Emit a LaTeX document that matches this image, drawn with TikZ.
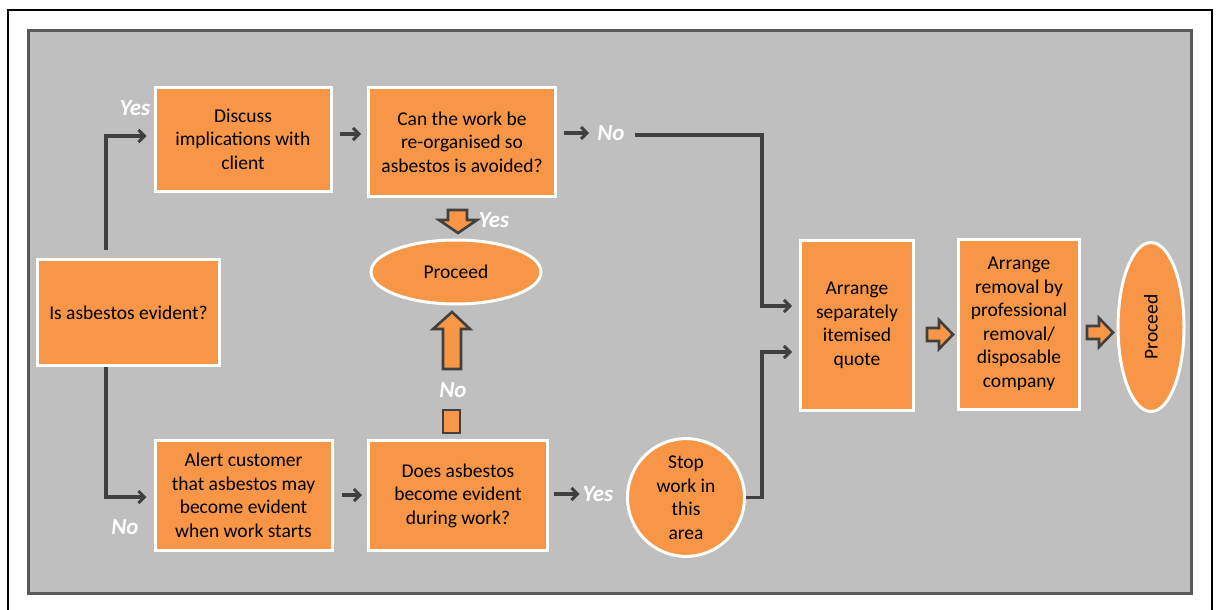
\documentclass[tikz,border=0pt]{standalone}
\usepackage{fontspec}
\setmainfont{Carlito}
\usetikzlibrary{arrows.meta,calc,shapes.geometric}
\definecolor{orng}{HTML}{F79646}
\definecolor{panel}{HTML}{BFBFBF}
\definecolor{pborder}{HTML}{595959}
\definecolor{conn}{HTML}{404040}
\begin{document}
\begin{tikzpicture}[x=1pt,y=-1pt,
  box/.style={draw=white, line width=3pt, fill=orng, align=center, inner sep=0pt,
    font=\fontsize{19.5}{23.5}\selectfont},
  oval/.style={box, ellipse},
  lbl/.style={text=white, font=\fontsize{23}{26}\selectfont\bfseries\itshape, inner sep=0pt},
  link/.style={draw=conn, line width=3.2pt, -{Straight Barb[length=6pt,width=12pt,line width=3pt]}},
  plain/.style={draw=conn, line width=3.2pt},
  blk/.style={draw=conn, fill=orng, line width=2.6pt, line join=miter}]
\useasboundingbox (0,0) rectangle (1218,610);
% frames
\draw[black, line width=2pt] (7,10.5) -- (1212,10.5) -- (1212,620);
\draw[black, line width=2pt] (7.5,10) -- (7.5,620);
\draw[fill=panel, draw=pborder, line width=3pt] (28,31) rectangle (1191,593);
% nodes
\node[box, minimum width=182, minimum height=106] (isq) at (128.5,312.5) {Is asbestos evident?};
\node[box, minimum width=176, minimum height=104] (disc) at (243,139) {Discuss\\implications with\\client};
\node[box, minimum width=187, minimum height=109] (can) at (462,142) {Can the work be\\re-organised so\\asbestos is avoided?};
\node[oval, minimum width=170, minimum height=64] (pro1) at (456,272) {Proceed};
\node[box, minimum width=177, minimum height=110] (alert) at (243.5,495.5) {Alert customer\\that asbestos may\\become evident\\when work starts};
\node[box, minimum width=179, minimum height=110] (does) at (458,495.5) {Does asbestos\\become evident\\during work?};
\node[oval, minimum width=117, minimum height=115] (stop) at (686,497.5) {Stop\\work in\\this\\area};
\node[box, minimum width=113, minimum height=170] (quote) at (857,325.5) {Arrange\\separately\\itemised\\quote};
\node[box, minimum width=121, minimum height=170] (remv) at (1019,324) {Arrange\\removal by\\professional\\removal/\\disposable\\company};
\node[oval, minimum width=66, minimum height=169] (pro2) at (1151,327) {};
\node[rotate=90, font=\fontsize{19.5}{23}\selectfont] (pro2t) at (pro2.center) {Proceed};
% labels
\node[lbl] (yes1) at (135,108) {Yes};
\node[lbl] (no1) at (125,527) {No};
\node[lbl] (no2) at (611,133) {No};
\node[lbl] (yes2) at (494,220) {Yes};
\node[lbl] (no3) at (453,390) {No};
\node[lbl] (yes3) at (598,494) {Yes};
% helper coordinates
\coordinate (vx) at (106,0);
\coordinate (rx) at (762,0);
% connectors
\draw[plain] ($(isq.north -| vx)+(0,-8)$) -- (vx |- 0,136);
\draw[link] ($(vx |- 0,136)+(-1.6,0)$) -- ($(disc.west |- 0,136)+(-7,0)$);
\draw[plain] ($(isq.south -| vx)$) -- (vx |- 0,497);
\draw[link] ($(vx |- 0,497)+(-1.6,0)$) -- ($(alert.west |- 0,497)+(-7,0)$);
\draw[link] ($(disc.east |- 0,134)+(7,0)$) -- ($(can.west |- 0,134)+(-6,0)$);
\draw[link] ($(can.east |- no2.west)+(7,0)$) -- ($(no2.west)+(-8,0)$);
\draw[plain] ($(no2.east)+(10,2)$) -- (rx |- 0,135) -- (rx |- 0,306);
\draw[link] ($(rx |- 0,306)+(-1.6,0)$) -- ($(quote.west |- 0,306)+(-7,0)$);
\draw[link] ($(alert.east |- 0,495)+(8,0)$) -- ($(does.west |- 0,495)+(-5,0)$);
\draw[link] ($(does.east |- yes3.west)+(5,0)$) -- ($(yes3.west)+(-3,0)$);
\draw[plain] (stop.east) -- (rx |- stop.east) -- (rx |- 0,352);
\draw[link] ($(rx |- 0,352)+(-1.6,0)$) -- ($(quote.west |- 0,352)+(-7,0)$);
% block arrows
\draw[blk] (448,210) -- (467,210) -- (467,220) -- (477,220) -- (458,233) -- (439,220) -- (448,220) -- cycle;
\draw[blk] (443,369) -- (443,329) -- (433,329) -- (452,312) -- (470,329) -- (461,329) -- (461,369) -- cycle;
\draw[blk] (443,410) rectangle (460,433);
\draw[blk] (927,328) -- (939,328) -- (939,320) -- (953,334.5) -- (939,349) -- (939,341) -- (927,341) -- cycle;
\draw[blk] (1087,326) -- (1099,326) -- (1099,318) -- (1113,332.5) -- (1099,347) -- (1099,339) -- (1087,339) -- cycle;
\end{tikzpicture}
\end{document}
